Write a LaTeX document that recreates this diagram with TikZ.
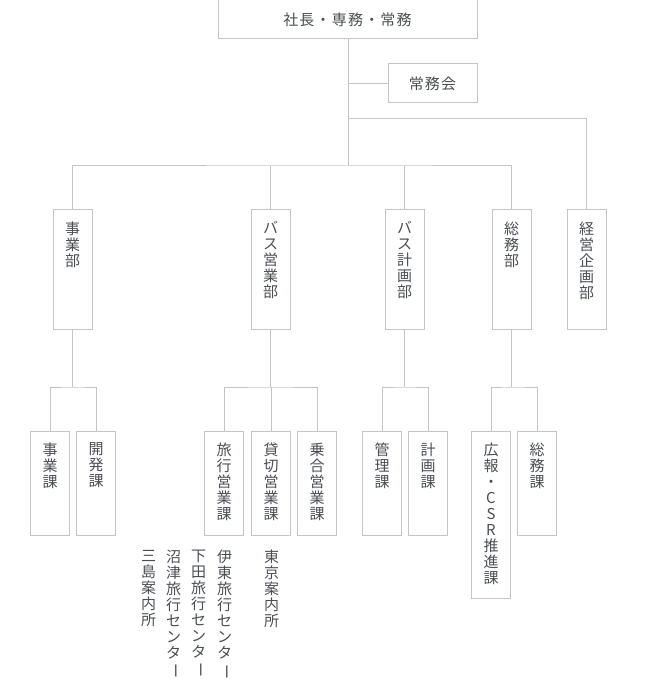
\documentclass[tikz,border=0pt]{standalone}
\usepackage{fontspec}
\usepackage{graphicx}
\setmainfont{Noto Sans CJK JP}
\newfontfamily\jpfont{Noto Sans CJK JP}
\newfontfamily\jpspaced[LetterSpace=8]{Noto Sans CJK JP}
\definecolor{linecol}{HTML}{C4C4C4}
\definecolor{textcol}{HTML}{4A4E54}
\newcommand\vbar{\rotatebox[origin=c]{-90}{ー}}
\tikzset{
  x=1pt,y=1pt,
  conn/.style={draw=linecol, line width=1pt},
  boxnode/.style={draw=linecol, line width=1pt, fill=white, inner sep=0pt, minimum width=39pt},
  deptbox/.style={boxnode, minimum height=119pt},
  secbox/.style={boxnode, minimum height=104pt},
  vtext/.style={font=\jpfont\fontsize{15}{16}\selectfont, align=center, inner sep=0pt, anchor=north, text=textcol},
  htext/.style={font=\jpspaced\fontsize{15}{16}\selectfont, text=textcol},
}
\begin{document}
\begin{tikzpicture}
\useasboundingbox (0,0) rectangle (650,-700);
% top level
\node[boxnode, minimum width=259pt, minimum height=39pt] (top) at (347.5,-19.5) {};
\node[htext] (toplbl) at (top.center) {社長・専務・常務};
\node[boxnode, minimum width=89pt, minimum height=39pt] (jomu) at (432.5,-83.5) {};
\node[htext] (jomulbl) at (jomu.center) {常務会};
% departments
\node[deptbox] (jigyo) at (72.5,-269.5) {};
\node[deptbox] (bus) at (270.5,-269.5) {};
\node[deptbox] (buskei) at (404.5,-269.5) {};
\node[deptbox] (somu) at (511.5,-269.5) {};
\node[deptbox] (keiei) at (586.5,-269.5) {};
\node[vtext] (jigyot) at ([yshift=-12pt]jigyo.north) {事\\業\\部};
\node[vtext] (bust) at ([yshift=-12pt]bus.north) {バ\\ス\\営\\業\\部};
\node[vtext] (buskeit) at ([yshift=-12pt]buskei.north) {バ\\ス\\計\\画\\部};
\node[vtext] (somut) at ([yshift=-12pt]somu.north) {総\\務\\部};
\node[vtext] (keieit) at ([yshift=-12pt]keiei.north) {経\\営\\企\\画\\部};
% sections
\node[secbox] (jigyoka) at (50,-483) {};
\node[secbox] (kaihatsu) at (96,-483) {};
\node[secbox] (ryoko) at (224,-483) {};
\node[secbox] (kashi) at (271,-483) {};
\node[secbox] (nori) at (317,-483) {};
\node[secbox] (kanri) at (382,-483) {};
\node[secbox] (keikaku) at (428,-483) {};
\node[boxnode, minimum height=167pt] (koho) at (491,-514.5) {};
\node[secbox] (somuka) at (537,-483) {};
\node[vtext] (jigyokat) at ([yshift=-12pt]jigyoka.north) {事\\業\\課};
\node[vtext] (kaihatsut) at ([yshift=-12pt]kaihatsu.north) {開\\発\\課};
\node[vtext] (ryokot) at ([yshift=-12pt]ryoko.north) {旅\\行\\営\\業\\課};
\node[vtext] (kashit) at ([yshift=-12pt]kashi.north) {貸\\切\\営\\業\\課};
\node[vtext] (norit) at ([yshift=-12pt]nori.north) {乗\\合\\営\\業\\課};
\node[vtext] (kanrit) at ([yshift=-12pt]kanri.north) {管\\理\\課};
\node[vtext] (keikakut) at ([yshift=-12pt]keikaku.north) {計\\画\\課};
\node[vtext] (kohot) at ([yshift=-12pt]koho.north) {広\\報\\・\\C\\S\\R\\推\\進\\課};
\node[vtext] (somukat) at ([yshift=-12pt]somuka.north) {総\\務\\課};
% notes
\node[vtext] (tokyo) at (271.5,-550) {東\\京\\案\\内\\所};
\node[vtext] (ito) at (224.5,-550) {伊\\東\\旅\\行\\セ\\ン\\タ\\\vbar};
\node[vtext] (shimoda) at (198.5,-550) {下\\田\\旅\\行\\セ\\ン\\タ\\\vbar};
\node[vtext] (numazu) at (173.5,-550) {沼\\津\\旅\\行\\セ\\ン\\タ\\\vbar};
\node[vtext] (mishima) at (148.5,-550) {三\\島\\案\\内\\所};
% connectors
\coordinate (j1) at (348,-83.5);
\coordinate (j2) at (348,-119);
\coordinate (j3) at (348,-166);
\draw[conn] (top.south -| j3) -- (j3);
\draw[conn] (j1) -- (jomu.west);
\draw[conn] (j2) -| (keiei.north);
\draw[conn] (jigyo.north) |- (j3) -| (somu.north);
\draw[conn] (bus.north) -- (bus.north |- j3);
\draw[conn] (buskei.north) -- (buskei.north |- j3);
\coordinate (b1) at (72.5,-387);
\coordinate (b2) at (270.5,-387);
\coordinate (b3) at (404.5,-387);
\coordinate (b4) at (511.5,-387);
\draw[conn] (jigyo.south) -- (b1);
\draw[conn] (jigyoka.north) |- (b1) -| (kaihatsu.north);
\draw[conn] (bus.south) -- (b2);
\draw[conn] (ryoko.north) |- (b2) -| (nori.north);
\draw[conn] (kashi.north) -- (kashi.north |- b2);
\draw[conn] (buskei.south) -- (b3);
\draw[conn] (kanri.north) |- (b3) -| (keikaku.north);
\draw[conn] (somu.south) -- (b4);
\draw[conn] (koho.north) |- (b4) -| (somuka.north);
\end{tikzpicture}
\end{document}
